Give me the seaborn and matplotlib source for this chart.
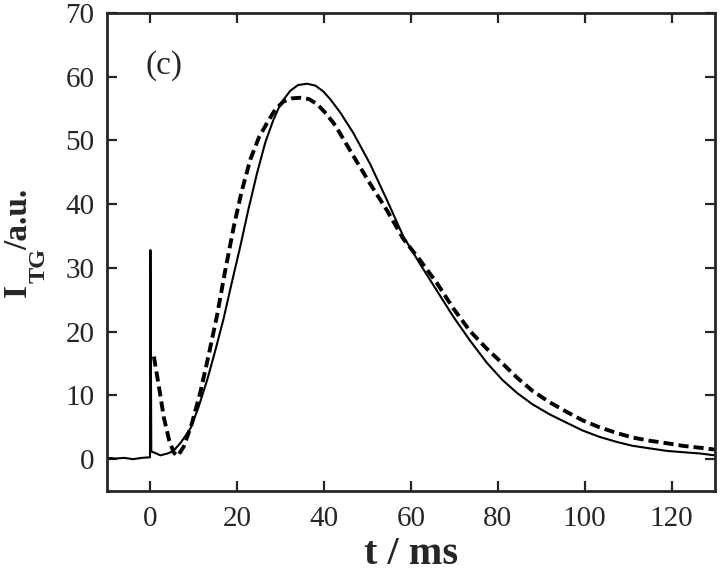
import numpy as np
import pandas as pd
import matplotlib
matplotlib.use("Agg")
import matplotlib.pyplot as plt
import seaborn as sns

# measured signal (solid)
t_meas = [-10, -8, -6, -4, -2, -0.1, 0.0, 0.2, 1, 2.3, 4, 5.3, 7, 9.2, 11, 13.1, 15, 16.8,
          18.5, 20.7, 22.5, 24.6, 26.5, 28.3, 30, 32.2, 34, 36.1, 38, 39.8, 41.5, 43.7, 46.7,
          50.6, 54.5, 58.2, 62.1, 66, 69.7, 73.6, 77.5, 81.1, 84.4, 88, 92, 95.9, 99.5, 103.4,
          107.4, 111, 114.9, 118.9, 122.5, 126.4, 130]
i_meas = [0.2, 0.1, 0.2, 0.0, 0.2, 0.3, 32.8, 1.2, 1.0, 0.6, 0.9, 1.3, 2.6, 4.8, 8.0, 12.5, 17.2, 21.9,
          27.0, 33.4, 39.0, 45.0, 49.8, 53.2, 55.8, 57.8, 58.7, 58.9, 58.6, 57.7, 56.4, 54.4, 51.2,
          46.3, 40.6, 35.0, 30.6, 26.4, 22.4, 18.6, 15.1, 12.4, 10.4, 8.6, 7.0, 5.7, 4.5, 3.5,
          2.7, 2.1, 1.7, 1.3, 1.1, 0.9, 0.6]

# fitted curve (dashed)
t_fit = [0.8, 2, 3.1, 4.3, 5.4, 6.3, 7.7, 9.5, 11.5, 13.4, 15.3, 17.2, 19.2, 21, 23, 25, 26.9,
         28.7, 30.6, 32.5, 34.5, 36.5, 38.4, 40.2, 42.1, 43.5, 46.7, 50.6, 54.5, 58.2, 62.1, 66,
         69.7, 73.6, 77.5, 81.1, 84.4, 88, 92, 95.9, 99.5, 103.4, 107.4, 111, 114.9, 118.9,
         122.5, 126.4, 130]
i_fit = [16.1, 11.2, 6.5, 3.0, 1.0, 0.5, 2.0, 5.5, 10.5, 16.3, 22.4, 29.5, 36.5, 42.0, 47.0, 50.5, 52.8,
         54.8, 56.1, 56.6, 56.7, 56.5, 55.7, 54.4, 52.8, 51.3, 47.6, 43.2, 39.0, 34.6, 31.2, 27.6,
         23.7, 20.1, 17.3, 15.0, 12.8, 10.7, 8.9, 7.4, 6.1, 5.0, 4.1, 3.4, 2.9, 2.5,
         2.1, 1.8, 1.5]

x_ticks = [0, 20, 40, 60, 80, 100, 120]
y_ticks = [0, 10, 20, 30, 40, 50, 60, 70]

sns.set_style("ticks")
plt.rcParams['font.family'] = ['Liberation Serif', 'DejaVu Serif']

W, H = 720, 580
fig = plt.figure(figsize=(7.2, 5.8), dpi=100)
ax = fig.add_axes([0.1486, 0.1534, 0.8444, 0.8242])

df_m = pd.DataFrame({"t": t_meas, "I": i_meas})
df_f = pd.DataFrame({"t": t_fit, "I": i_fit})
sns.lineplot(data=df_m, x="t", y="I", ax=ax, color="black", linewidth=1.5, estimator=None)
sns.lineplot(data=df_f, x="t", y="I", ax=ax, color="black", linewidth=2.8, estimator=None)
ax.lines[1].set_dashes((2.6, 1.3))

ax.set_xlim(-10, 130)
ax.set_ylim(-5, 70)
ax.set_xticks(x_ticks)
ax.set_yticks(y_ticks)
ax.tick_params(direction='in', top=True, right=True, length=7, width=1.6,
               labelsize=21, pad=9)
ax.tick_params(axis='x', pad=11)
for s in ax.spines.values():
    s.set_linewidth(2)
    s.set_visible(True)

ax.set_xlabel("t / ms", fontsize=29, fontweight='bold', labelpad=3)
ax.set_ylabel("")

# y label built from pieces (deep subscript as in the original)
common = dict(rotation=90, rotation_mode='anchor', ha='left', va='baseline',
              fontweight='bold')
fig.text(26 / W, 1 - 297 / H, "I", fontsize=24, **common)
fig.text(45 / W, 1 - 283 / H, "TG", fontsize=17.5, **common)
fig.text(27 / W, 1 - 250 / H, "/a.u.", fontsize=24, **common)

ax.text(-1.2, 61.7, "(c)", fontsize=24, va='center', ha='left')

fig.savefig("out.png", dpi=100)
